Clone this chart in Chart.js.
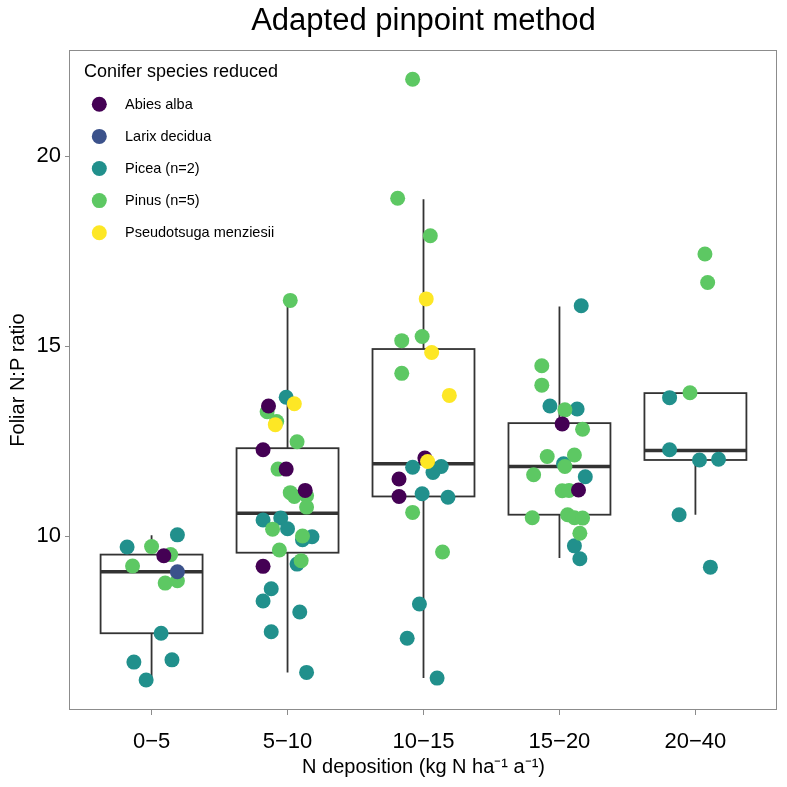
<!DOCTYPE html>
<html>
<head>
<meta charset="utf-8">
<script src="https://cdn.jsdelivr.net/npm/chart.js@4.4.1/dist/chart.umd.min.js"></script>
<style>
  html, body { margin: 0; padding: 0; background: #fff; }
  #c { display: block; width: 787px; height: 787px; }
</style>
</head>
<body>
<canvas id="c" width="787" height="787"></canvas>
<script>
// categories on the x axis
const categories = ['0\u22125', '5\u221210', '10\u221215', '15\u221220', '20\u221240'];
const yTicks = [10, 15, 20];

// box statistics per category
const boxQ1 = [7.45, 9.57, 11.05, 10.57, 12.01];
const boxMedian = [9.07, 10.61, 11.91, 11.84, 12.26];
const boxQ3 = [9.52, 12.32, 14.93, 12.98, 13.77];
const whiskerLow = [6.22, 6.42, 6.27, 9.43, 10.57];
const whiskerHigh = [10.03, 16.18, 18.87, 16.05, 13.78];

// points per species: [category index, jitter, N:P ratio]
const abiesAlba = [
  [0, 0.09, 9.49],
  [1, -0.14, 13.43], [1, -0.18, 12.28], [1, -0.01, 11.77], [1, 0.13, 11.21], [1, -0.18, 9.21],
  [2, 0.01, 12.06], [2, -0.18, 11.51], [2, -0.18, 11.05],
  [3, 0.02, 12.96], [3, 0.14, 11.22]
];
const larixDecidua = [
  [0, 0.19, 9.07]
];
const picea = [
  [0, 0.19, 10.04], [0, -0.18, 9.72], [0, 0.07, 7.45], [0, -0.13, 6.69], [0, 0.15, 6.75], [0, -0.04, 6.22],
  [1, -0.01, 13.66], [1, -0.18, 10.43], [1, -0.05, 10.48], [1, 0.00, 10.20], [1, 0.18, 9.99], [1, 0.11, 9.91],
  [1, 0.07, 9.27], [1, -0.12, 8.62], [1, -0.18, 8.30], [1, 0.09, 8.01], [1, -0.12, 7.49], [1, 0.14, 6.42],
  [2, -0.08, 11.82], [2, 0.13, 11.84], [2, 0.07, 11.68], [2, -0.01, 11.12], [2, 0.18, 11.03], [2, -0.03, 8.22],
  [2, -0.12, 7.32], [2, 0.10, 6.27],
  [3, 0.16, 16.07], [3, -0.07, 13.43], [3, 0.13, 13.35], [3, 0.03, 11.91], [3, 0.19, 11.57], [3, 0.11, 9.75], [3, 0.15, 9.41],
  [4, -0.19, 13.65], [4, -0.19, 12.28], [4, 0.03, 12.01], [4, 0.17, 12.03], [4, -0.12, 10.57], [4, 0.11, 9.19]
];
const pinus = [
  [0, 0.00, 9.73], [0, 0.14, 9.52], [0, -0.14, 9.22], [0, 0.10, 8.77], [0, 0.19, 8.83],
  [1, 0.02, 16.21], [1, -0.15, 13.28], [1, -0.08, 13.02], [1, 0.07, 12.49], [1, -0.07, 11.77], [1, 0.02, 11.15],
  [1, 0.05, 11.05], [1, 0.14, 11.07], [1, 0.14, 10.77], [1, -0.11, 10.19], [1, 0.11, 10.01], [1, -0.06, 9.64], [1, 0.10, 9.36],
  [2, -0.08, 22.03], [2, -0.19, 18.90], [2, 0.05, 17.91], [2, -0.16, 15.15], [2, -0.01, 15.26], [2, -0.16, 14.29],
  [2, -0.08, 10.63], [2, 0.14, 9.59],
  [3, -0.13, 14.49], [3, -0.13, 13.98], [3, 0.04, 13.33], [3, 0.17, 12.82], [3, -0.09, 12.10], [3, 0.11, 12.14],
  [3, 0.04, 11.84], [3, -0.19, 11.62], [3, 0.02, 11.20], [3, 0.07, 11.21], [3, -0.20, 10.49], [3, 0.06, 10.57],
  [3, 0.11, 10.49], [3, 0.17, 10.48], [3, 0.15, 10.08],
  [4, 0.07, 17.43], [4, 0.09, 16.68], [4, -0.04, 13.78]
];
const pseudotsuga = [
  [1, 0.05, 13.49], [1, -0.09, 12.94],
  [2, 0.02, 16.25], [2, 0.06, 14.84], [2, 0.19, 13.71], [2, 0.03, 11.97]
];

const FONT = "'Liberation Sans', Arial, sans-serif";
const GREY = '#8c8c8c';

function toPoints(list) {
  return list.map(p => ({ x: p[0] + p[1], y: p[2] }));
}

function speciesSet(label, list, colour, order) {
  return {
    label: label,
    data: toPoints(list),
    backgroundColor: colour,
    borderWidth: 0,
    pointRadius: 7.5,
    pointHoverRadius: 7.5,
    order: order
  };
}

// boxes, medians and whiskers, drawn under the points
const boxPlugin = {
  id: 'boxes',
  beforeDatasetsDraw(chart) {
    const { ctx, scales: { x, y } } = chart;
    ctx.save();
    ctx.strokeStyle = '#333333';
    categories.forEach((c, i) => {
      const x0 = x.getPixelForValue(i - 0.375);
      const x1 = x.getPixelForValue(i + 0.375);
      const xc = x.getPixelForValue(i);
      const yQ1 = y.getPixelForValue(boxQ1[i]);
      const yQ3 = y.getPixelForValue(boxQ3[i]);
      const yMed = y.getPixelForValue(boxMedian[i]);
      ctx.lineWidth = 1.8;
      ctx.beginPath();
      ctx.moveTo(xc, yQ3);
      ctx.lineTo(xc, y.getPixelForValue(whiskerHigh[i]));
      ctx.moveTo(xc, yQ1);
      ctx.lineTo(xc, y.getPixelForValue(whiskerLow[i]));
      ctx.stroke();
      ctx.fillStyle = '#ffffff';
      ctx.fillRect(x0, yQ3, x1 - x0, yQ1 - yQ3);
      ctx.strokeRect(x0, yQ3, x1 - x0, yQ1 - yQ3);
      ctx.lineWidth = 3.6;
      ctx.beginPath();
      ctx.moveTo(x0, yMed);
      ctx.lineTo(x1, yMed);
      ctx.stroke();
    });
    ctx.restore();
  }
};

// panel border, title and legend
const decorPlugin = {
  id: 'decor',
  afterDraw(chart) {
    const { ctx, chartArea: a } = chart;
    ctx.save();
    ctx.strokeStyle = GREY;
    ctx.lineWidth = 1;
    ctx.strokeRect(a.left - 0.5, a.top + 0.5, a.right - a.left, a.bottom - a.top - 1);

    ctx.fillStyle = '#000';
    ctx.textAlign = 'center';
    ctx.textBaseline = 'middle';
    ctx.font = '31px ' + FONT;
    ctx.fillText('Adapted pinpoint method', (a.left + a.right) / 2, 21);

    ctx.textAlign = 'left';
    ctx.font = '18px ' + FONT;
    ctx.fillText('Conifer species reduced', a.left + 14, a.top + 22);
    ctx.font = '14.5px ' + FONT;
    chart.data.datasets.forEach((ds, k) => {
      const cy = a.top + 54.3 + 32.1 * k;
      ctx.fillStyle = ds.backgroundColor;
      ctx.beginPath();
      ctx.arc(a.left + 29.3, cy, 7.5, 0, Math.PI * 2);
      ctx.fill();
      ctx.fillStyle = '#000';
      ctx.fillText(ds.label, a.left + 55, cy + 0.5);
    });
    ctx.restore();
  }
};

new Chart(document.getElementById('c'), {
  type: 'scatter',
  data: {
    datasets: [
      speciesSet('Abies alba', abiesAlba, '#440154', 1),
      speciesSet('Larix decidua', larixDecidua, '#3B528B', 2),
      speciesSet('Picea (n=2)', picea, '#21908C', 4),
      speciesSet('Pinus (n=5)', pinus, '#5DC863', 3),
      speciesSet('Pseudotsuga menziesii', pseudotsuga, '#FDE725', 0)
    ]
  },
  options: {
    responsive: false,
    animation: false,
    layout: { padding: { top: 50, right: 10, bottom: 0, left: 0 } },
    plugins: {
      legend: { display: false },
      tooltip: { enabled: false }
    },
    scales: {
      x: {
        type: 'linear',
        min: -0.6,
        max: 4.6,
        afterBuildTicks: s => { s.ticks = categories.map((c, i) => ({ value: i })); },
        afterFit: s => { s.height = 77; },
        ticks: {
          callback: v => categories[v],
          font: { family: FONT, size: 22 },
          color: '#000',
          padding: 14,
          maxRotation: 0,
          autoSkip: false
        },
        grid: { drawOnChartArea: false, tickLength: 5, color: GREY, tickColor: GREY },
        border: { display: false },
        title: {
          display: true,
          text: 'N deposition (kg N ha\u207B\u00B9 a\u207B\u00B9)',
          font: { family: FONT, size: 20 },
          color: '#000',
          padding: { top: 0, bottom: 8 }
        }
      },
      y: {
        type: 'linear',
        min: 5.43,
        max: 22.8,
        afterBuildTicks: s => { s.ticks = yTicks.map(v => ({ value: v })); },
        afterFit: s => { s.width = 70; },
        ticks: {
          callback: v => String(v),
          font: { family: FONT, size: 22 },
          color: '#000',
          padding: 4
        },
        grid: { drawOnChartArea: false, tickLength: 5, color: GREY, tickColor: GREY },
        border: { display: false },
        title: {
          display: true,
          text: 'Foliar N:P ratio',
          font: { family: FONT, size: 20 },
          color: '#000',
          padding: { top: 6, bottom: 0 }
        }
      }
    }
  },
  plugins: [boxPlugin, decorPlugin]
});
</script>
</body>
</html>
